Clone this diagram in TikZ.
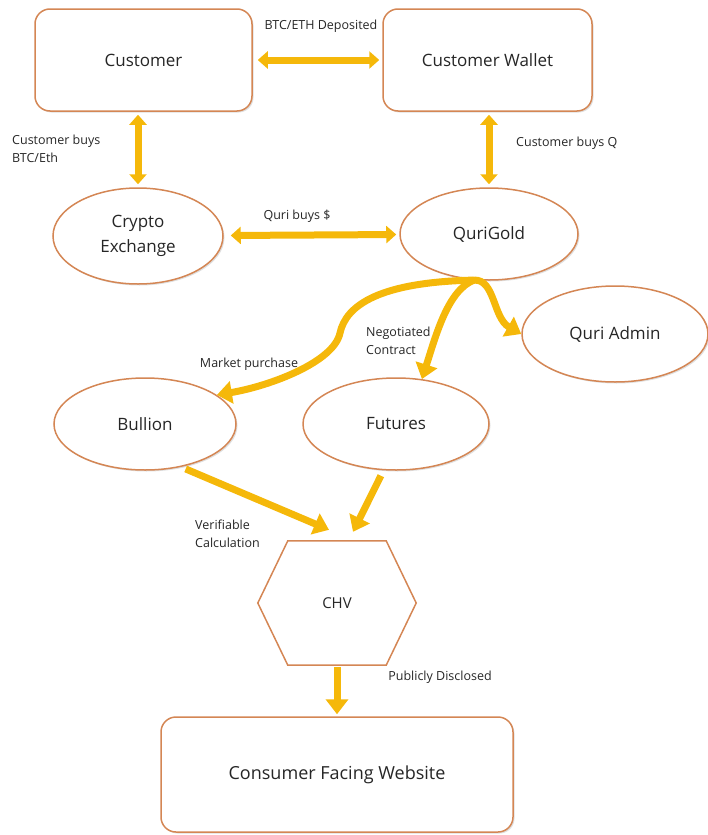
\documentclass[tikz,border=0pt]{standalone}
\usepackage{fontspec}
\setmainfont{Open Sans}
\usetikzlibrary{arrows.meta,shapes.geometric,shadows}
\definecolor{rim}{RGB}{212,134,84}
\definecolor{gold}{RGB}{245,184,10}
\definecolor{ink}{RGB}{38,38,38}
\begin{document}
\begin{tikzpicture}[
        x=1pt, y=-1pt, % Координаты в пикселях, ось y вниз
        font=\fontsize{17}{25}\selectfont, text=ink,
        shade/.style={drop shadow={shadow xshift=1.5pt, shadow yshift=-1.5pt, opacity=0.25}},
        box/.style={draw=rim, line width=1.5pt, rounded corners=15pt, fill=white, shade},
        oval/.style={ellipse, draw=rim, line width=1.5pt, fill=white, inner sep=0pt, align=center, shade},
        hexa/.style={minimum width=158pt, minimum height=124pt, inner sep=0pt, font=\fontsize{15}{18}\selectfont},
        note/.style={font=\fontsize{12.5}{18}\selectfont, align=left, inner sep=0pt},
        oneway/.style={draw=gold, line width=7pt, -{Triangle[length=15pt, width=22pt]}},
        twoway/.style={draw=gold, line width=7pt, {Triangle[length=10pt, width=17pt]}-{Triangle[length=10pt, width=17pt]}, shorten <=3pt, shorten >=3pt},
    ]
    \useasboundingbox (0,0) rectangle (708,835);

    % Узлы
    \node[box, minimum width=217pt, minimum height=102pt] (cust) at (143.5,60) {Customer};
    \node[box, minimum width=209pt, minimum height=102pt] (wallet) at (487.5,60) {Customer Wallet};
    \node[oval, minimum width=170pt, minimum height=96pt] (exch) at (138,236) {Crypto\\Exchange};
    \node[oval, minimum width=178pt, minimum height=92pt] (quri) at (489,234) {QuriGold};
    \node[oval, minimum width=186pt, minimum height=96pt] (admin) at (615,334) {Quri Admin};
    \node[oval, minimum width=182pt, minimum height=92pt] (bullion) at (145,424) {Bullion};
    \node[oval, minimum width=186pt, minimum height=92pt] (futures) at (396,424) {Futures};
    \node[hexa] (chv) at (337,603) {CHV};
    \draw[draw=rim, line width=1.5pt] (chv.west) -- ([xshift=30pt]chv.north west) -- ([xshift=-30pt]chv.north east)
        -- (chv.east) -- ([xshift=-30pt]chv.south east) -- ([xshift=30pt]chv.south west) -- cycle;
    \node[box, minimum width=352pt, minimum height=115pt, font=\fontsize{18}{22}\selectfont] (site) at (337,774.5) {Consumer Facing Website};

    % Стрелки
    \draw[twoway, shorten <=5pt] (cust) -- (wallet);
    \draw[twoway] (exch.north) -- (exch.north |- cust.south);
    \draw[twoway] (quri.north) -- (quri.north |- wallet.south);
    \draw[twoway, shorten <=7pt] (exch) -- (quri);
    \coordinate (fork) at (quri.252);
    \draw[oneway] (fork) .. controls (380,282) and (346,305) .. (340,333) .. controls (334,362) and (270,386) .. (bullion.22);
    \draw[oneway] (fork) .. controls (448,290) and (436,335) .. (futures.60);
    \draw[oneway] (fork) .. controls (495,279) and (493,318) .. (admin.west);
    \draw[oneway, shorten <=5pt] (bullion.-50) -- ([xshift=-8pt, yshift=11pt]chv.north);
    \draw[oneway, shorten <=6pt] (futures.-105) -- ([xshift=16pt, yshift=9pt]chv.north);
    \draw[oneway, shorten <=2pt, shorten >=2pt] (chv) -- (site);

    % Подписи
    \node[note] (deposited) at (321,26) {BTC/ETH Deposited};
    \node[note, anchor=west] (buyscrypto) at (12,149) {Customer buys\\BTC/Eth};
    \node[note, anchor=west] (buysq) at (516,143) {Customer buys Q};
    \node[note] (buysusd) at (297,216) {Quri buys \$};
    \node[note] (market) at (249,364) {Market purchase};
    \node[note, anchor=west] (negotiated) at (366,341) {Negotiated\\Contract};
    \node[note, anchor=west] (verifiable) at (195,534) {Verifiable\\Calculation};
    \node[note] (disclosed) at (440,677) {Publicly Disclosed};
\end{tikzpicture}
\end{document}
